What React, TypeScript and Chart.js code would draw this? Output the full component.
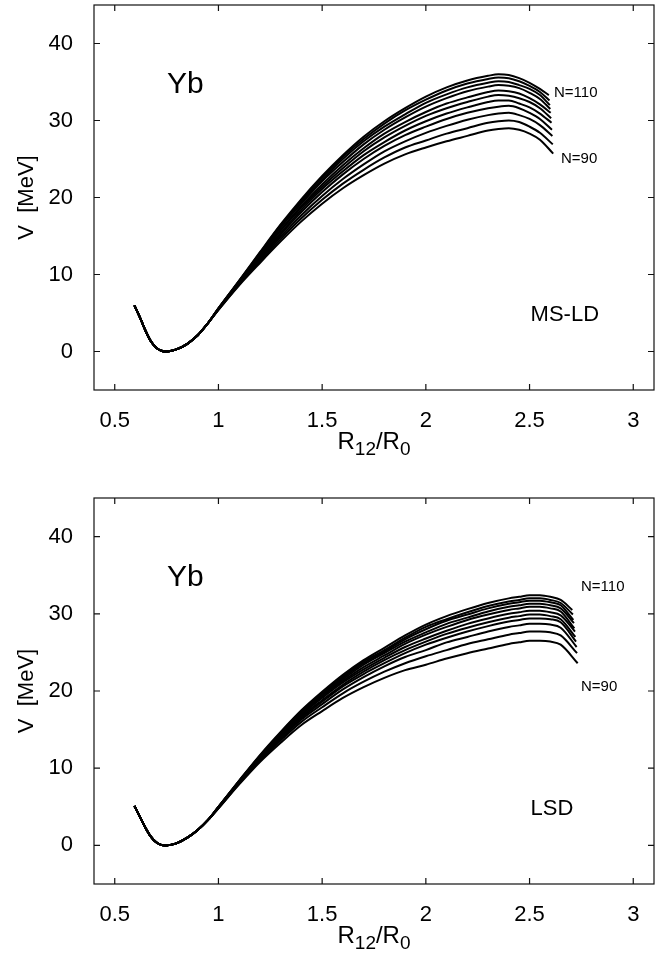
import React, { useEffect, useRef } from 'react';
import { Chart, registerables } from 'chart.js';

Chart.register(...registerables);

const FONT = '"Liberation Sans", Arial, Helvetica, sans-serif';

// Axis ranges and ticks
const X_MIN = 0.4;
const X_MAX = 3.1;
const Y_MIN = -5;
const Y_MAX = 45;
const xTicks = [0.5, 1, 1.5, 2, 2.5, 3];
const xTickLabels = ['0.5', '1', '1.5', '2', '2.5', '3'];
const yTicks = [0, 10, 20, 30, 40];
const yTickLabels = ['0', '10', '20', '30', '40'];

// Neutron numbers of the curves (bottom to top)
const neutronNumbers = [90, 92, 94, 96, 98, 100, 102, 104, 106, 108, 110];

// ---------- MS-LD (top panel) ----------
const msldMinX = [0.595, 0.625, 0.65, 0.675, 0.7, 0.725, 0.75, 0.775, 0.8, 0.85, 0.9, 0.95];
const msldMinV = [6.0, 4.2, 2.6, 1.3, 0.5, 0.1, 0.0, 0.1, 0.3, 1.0, 2.1, 3.7];
const msldX = [1.0, 1.1, 1.2, 1.3, 1.4, 1.5, 1.6, 1.7, 1.8, 1.9, 2.0, 2.1, 2.2, 2.3, 2.35, 2.4, 2.45, 2.5, 2.55];
const msldV90 = [5.4, 8.6, 11.5, 14.3, 16.9, 19.2, 21.2, 22.9, 24.4, 25.6, 26.5, 27.3, 28.0, 28.7, 28.9, 29.0, 28.8, 28.3, 27.5];
const msldV92 = [5.4, 8.7, 11.7, 14.6, 17.3, 19.7, 21.8, 23.6, 25.2, 26.5, 27.4, 28.3, 29.0, 29.7, 29.9, 30.0, 29.8, 29.2, 28.4];
const msldV94 = [5.5, 8.8, 11.9, 14.9, 17.7, 20.2, 22.4, 24.3, 26.0, 27.3, 28.4, 29.3, 30.1, 30.7, 30.9, 31.0, 30.7, 30.2, 29.4];
const msldV96 = [5.5, 8.9, 12.1, 15.2, 18.1, 20.7, 23.0, 25.0, 26.7, 28.1, 29.2, 30.2, 31.0, 31.6, 31.8, 31.9, 31.6, 31.0, 30.2];
const msldV98 = [5.5, 8.9, 12.2, 15.4, 18.4, 21.1, 23.4, 25.5, 27.2, 28.7, 29.9, 30.9, 31.7, 32.4, 32.6, 32.6, 32.2, 31.7, 30.9];
const msldV100 = [5.5, 9.0, 12.4, 15.7, 18.7, 21.4, 23.8, 26.0, 27.8, 29.3, 30.6, 31.6, 32.4, 33.1, 33.3, 33.2, 32.9, 32.4, 31.6];
const msldV102 = [5.5, 9.0, 12.5, 15.8, 18.9, 21.7, 24.2, 26.4, 28.3, 29.8, 31.1, 32.2, 33.0, 33.7, 33.9, 33.8, 33.5, 32.9, 32.1];
const msldV104 = [5.6, 9.1, 12.6, 16.1, 19.2, 22.1, 24.6, 26.9, 28.8, 30.4, 31.8, 32.9, 33.8, 34.4, 34.6, 34.5, 34.2, 33.6, 32.8];
const msldV106 = [5.6, 9.1, 12.7, 16.2, 19.4, 22.3, 25.0, 27.3, 29.2, 30.8, 32.3, 33.4, 34.3, 34.9, 35.1, 35.0, 34.6, 34.1, 33.3];
const msldV108 = [5.6, 9.2, 12.8, 16.4, 19.6, 22.6, 25.3, 27.6, 29.6, 31.3, 32.7, 33.9, 34.8, 35.4, 35.6, 35.5, 35.1, 34.5, 33.7];
const msldV110 = [5.6, 9.2, 12.9, 16.5, 19.8, 22.8, 25.5, 27.9, 29.9, 31.6, 33.1, 34.3, 35.2, 35.8, 36.0, 35.9, 35.5, 34.9, 34.1];
const msldEndX = [2.614, 2.612, 2.61, 2.608, 2.606, 2.604, 2.602, 2.6, 2.598, 2.596, 2.593];
const msldEndV = [25.7, 26.9, 28.0, 28.8, 29.7, 30.3, 31.0, 31.5, 32.0, 32.6, 33.3];

// ---------- LSD (bottom panel) ----------
const lsdMinX = [0.595, 0.625, 0.65, 0.675, 0.7, 0.725, 0.75, 0.775, 0.8, 0.85, 0.9, 0.95];
const lsdMinV = [5.1, 3.5, 2.2, 1.1, 0.4, 0.05, 0.0, 0.1, 0.3, 1.0, 2.0, 3.3];
const lsdX = [1.0, 1.1, 1.2, 1.3, 1.4, 1.5, 1.6, 1.7, 1.8, 1.9, 2.0, 2.1, 2.2, 2.3, 2.4, 2.45, 2.5, 2.55, 2.6, 2.65];
const lsdV90 = [4.8, 7.9, 10.8, 13.3, 15.6, 17.4, 19.1, 20.5, 21.7, 22.7, 23.4, 24.2, 24.9, 25.5, 26.1, 26.3, 26.5, 26.5, 26.4, 26.0];
const lsdV92 = [4.8, 8.0, 11.0, 13.6, 16.0, 17.9, 19.7, 21.2, 22.5, 23.6, 24.5, 25.3, 26.1, 26.7, 27.3, 27.5, 27.7, 27.7, 27.6, 27.2];
const lsdV94 = [4.9, 8.1, 11.1, 13.8, 16.3, 18.3, 20.2, 21.8, 23.2, 24.4, 25.3, 26.3, 27.0, 27.7, 28.3, 28.5, 28.7, 28.7, 28.6, 28.2];
const lsdV96 = [4.9, 8.2, 11.2, 14.0, 16.5, 18.6, 20.6, 22.2, 23.6, 24.9, 26.0, 26.9, 27.7, 28.4, 29.0, 29.2, 29.4, 29.4, 29.3, 28.9];
const lsdV98 = [4.9, 8.2, 11.3, 14.1, 16.7, 18.8, 20.8, 22.5, 24.0, 25.3, 26.4, 27.4, 28.2, 28.9, 29.5, 29.7, 29.9, 29.9, 29.7, 29.3];
const lsdV100 = [4.9, 8.2, 11.4, 14.2, 16.9, 19.1, 21.1, 22.8, 24.3, 25.7, 26.8, 27.8, 28.7, 29.4, 30.0, 30.2, 30.4, 30.4, 30.2, 29.8];
const lsdV102 = [5.0, 8.3, 11.5, 14.3, 17.0, 19.3, 21.3, 23.1, 24.6, 26.1, 27.3, 28.3, 29.2, 29.9, 30.5, 30.7, 30.9, 30.9, 30.7, 30.3];
const lsdV104 = [5.0, 8.3, 11.5, 14.4, 17.2, 19.4, 21.5, 23.4, 24.9, 26.4, 27.6, 28.7, 29.5, 30.3, 30.9, 31.1, 31.3, 31.3, 31.1, 30.7];
const lsdV106 = [5.0, 8.3, 11.6, 14.5, 17.3, 19.6, 21.7, 23.6, 25.1, 26.7, 28.0, 29.1, 29.9, 30.7, 31.3, 31.5, 31.7, 31.7, 31.5, 31.1];
const lsdV108 = [5.0, 8.4, 11.6, 14.6, 17.4, 19.7, 21.9, 23.8, 25.3, 26.9, 28.3, 29.3, 30.2, 31.0, 31.6, 31.8, 32.0, 32.0, 31.8, 31.4];
const lsdV110 = [5.0, 8.4, 11.7, 14.7, 17.5, 19.9, 22.1, 24.0, 25.6, 27.2, 28.6, 29.7, 30.6, 31.4, 32.0, 32.2, 32.4, 32.4, 32.2, 31.8];
const lsdEndX = [2.732, 2.729, 2.727, 2.724, 2.721, 2.719, 2.716, 2.714, 2.711, 2.709, 2.706];
const lsdEndV = [23.6, 24.9, 25.7, 26.4, 27.0, 27.7, 28.1, 28.8, 29.2, 29.9, 30.5];

const msldCurves = [msldV90, msldV92, msldV94, msldV96, msldV98, msldV100, msldV102, msldV104, msldV106, msldV108, msldV110];
const lsdCurves = [lsdV90, lsdV92, lsdV94, lsdV96, lsdV98, lsdV100, lsdV102, lsdV104, lsdV106, lsdV108, lsdV110];

type PanelProps = {
  minX: number[];
  minV: number[];
  gridX: number[];
  curves: number[][];
  endX: number[];
  endV: number[];
  model: string;
  padTop: number;
  axisHeight: number;
  nTopLabel: { dx: number; base: number };
  nBotLabel: { dx: number; base: number };
};

const W = 662;
const H = 479;

function zeroPad(s: any) {
  s.paddingTop = 0;
  s.paddingBottom = 0;
  s.paddingLeft = 0;
  s.paddingRight = 0;
}

function Panel(props: PanelProps) {
  const ref = useRef<HTMLCanvasElement | null>(null);

  useEffect(() => {
    const canvas = ref.current;
    if (!canvas) return;

    const datasets = props.curves.map((vals, i) => ({
      label: 'N=' + neutronNumbers[i],
      data: [
        ...props.minX.map((x, j) => ({ x, y: props.minV[j] })),
        ...props.gridX.map((x, j) => ({ x, y: vals[j] })),
        { x: props.endX[i], y: props.endV[i] },
      ],
      borderColor: '#000',
      borderWidth: 2,
      pointRadius: 0,
      showLine: true,
      fill: false,
      cubicInterpolationMode: 'monotone' as const,
    }));

    const framePlugin = {
      id: 'frame',
      afterDraw(chart: any) {
        const ctx = chart.ctx as CanvasRenderingContext2D;
        const { left, right, top, bottom } = chart.chartArea;
        const xs = chart.scales.x;
        const ys = chart.scales.y;
        ctx.save();
        ctx.strokeStyle = '#111';
        ctx.lineWidth = 1.2;
        ctx.strokeRect(left, top, right - left, bottom - top);
        const tl = 6;
        ctx.beginPath();
        xTicks.forEach((v) => {
          const px = xs.getPixelForValue(v);
          ctx.moveTo(px, bottom);
          ctx.lineTo(px, bottom - tl);
          ctx.moveTo(px, top);
          ctx.lineTo(px, top + tl);
        });
        yTicks.forEach((v) => {
          const py = ys.getPixelForValue(v);
          ctx.moveTo(left, py);
          ctx.lineTo(left + tl, py);
          ctx.moveTo(right, py);
          ctx.lineTo(right - tl, py);
        });
        ctx.stroke();

        ctx.fillStyle = '#000';
        // Y axis title
        ctx.save();
        ctx.translate(27, (top + bottom) / 2);
        ctx.rotate(-Math.PI / 2);
        ctx.font = '22px ' + FONT;
        ctx.textAlign = 'center';
        ctx.textBaseline = 'middle';
        ctx.fillText('V  [MeV]', 0, 0);
        ctx.restore();

        // X axis title R_12 / R_0
        const big = '24px ' + FONT;
        const small = '19px ' + FONT;
        const parts = [
          { t: 'R', f: big, dy: 0 },
          { t: '12', f: small, dy: 6 },
          { t: '/R', f: big, dy: 0 },
          { t: '0', f: small, dy: 6 },
        ];
        let total = 0;
        parts.forEach((p) => {
          ctx.font = p.f;
          total += ctx.measureText(p.t).width;
        });
        let cx = (left + right) / 2 - total / 2;
        const baseY = bottom + 59;
        ctx.textAlign = 'left';
        ctx.textBaseline = 'alphabetic';
        parts.forEach((p) => {
          ctx.font = p.f;
          ctx.fillText(p.t, cx, baseY + p.dy);
          cx += ctx.measureText(p.t).width;
        });

        // Element label
        ctx.font = '30px ' + FONT;
        ctx.fillText('Yb', left + 73, top + 88);

        // Model label
        ctx.font = '22px ' + FONT;
        ctx.fillText(props.model, xs.getPixelForValue(2.505), ys.getPixelForValue(3.9));

        // Curve labels
        ctx.font = '15px ' + FONT;
        ctx.fillText('N=' + neutronNumbers[neutronNumbers.length - 1], left + props.nTopLabel.dx, top + props.nTopLabel.base);
        ctx.fillText('N=' + neutronNumbers[0], left + props.nBotLabel.dx, top + props.nBotLabel.base);
        ctx.restore();
      },
    };

    const chart = new Chart(canvas, {
      type: 'scatter',
      data: { datasets: datasets as any },
      options: {
        animation: false,
        responsive: false,
        devicePixelRatio: 1,
        layout: { padding: { left: 0, right: 8, top: props.padTop, bottom: 0 } },
        plugins: {
          legend: { display: false },
          tooltip: { enabled: false },
        },
        scales: {
          x: {
            type: 'linear',
            min: X_MIN,
            max: X_MAX,
            afterBuildTicks: (s: any) => {
              s.ticks = xTicks.map((v) => ({ value: v }));
            },
            afterFit: (s: any) => {
              s.height = props.axisHeight;
              zeroPad(s);
            },
            ticks: {
              callback: (_v: any, i: number) => xTickLabels[i],
              font: { size: 22, family: FONT },
              color: '#000',
              padding: 10,
              maxRotation: 0,
              autoSkip: false,
            },
            grid: { display: false },
            border: { display: false },
          },
          y: {
            type: 'linear',
            min: Y_MIN,
            max: Y_MAX,
            afterBuildTicks: (s: any) => {
              s.ticks = yTicks.map((v) => ({ value: v }));
            },
            afterFit: (s: any) => {
              s.width = 94;
              zeroPad(s);
            },
            ticks: {
              callback: (_v: any, i: number) => yTickLabels[i],
              font: { size: 22, family: FONT },
              color: '#000',
              padding: 13,
              autoSkip: false,
            },
            grid: { display: false },
            border: { display: false },
          },
        },
      } as any,
      plugins: [framePlugin],
    });

    return () => chart.destroy();
  }, []);

  return <canvas ref={ref} width={W} height={H} style={{ display: 'block', width: W, height: H }} />;
}

export default function App() {
  return (
    <div style={{ position: 'absolute', left: 0, top: 0, width: W, height: 2 * H, background: '#fff' }}>
      <Panel
        minX={msldMinX}
        minV={msldMinV}
        gridX={msldX}
        curves={msldCurves}
        endX={msldEndX}
        endV={msldEndV}
        model="MS-LD"
        padTop={5}
        axisHeight={89}
        nTopLabel={{ dx: 460, base: 92 }}
        nBotLabel={{ dx: 467, base: 158 }}
      />
      <Panel
        minX={lsdMinX}
        minV={lsdMinV}
        gridX={lsdX}
        curves={lsdCurves}
        endX={lsdEndX}
        endV={lsdEndV}
        model="LSD"
        padTop={19}
        axisHeight={74}
        nTopLabel={{ dx: 487, base: 93 }}
        nBotLabel={{ dx: 487, base: 193 }}
      />
    </div>
  );
}
